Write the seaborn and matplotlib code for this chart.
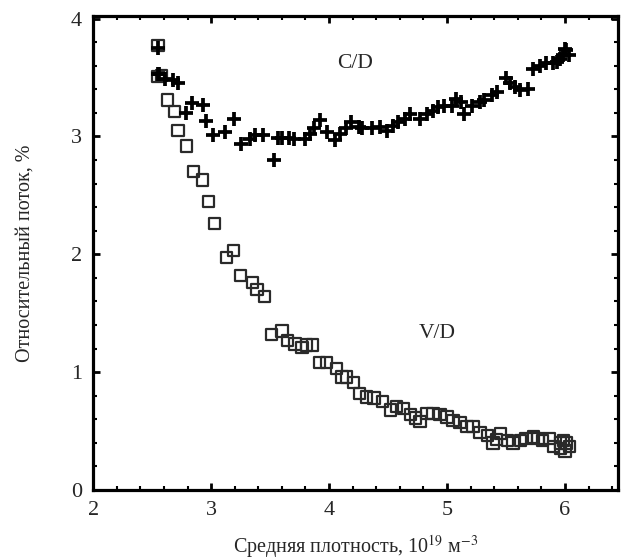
import numpy as np
import pandas as pd
import matplotlib
matplotlib.use("Agg")
import matplotlib.pyplot as plt
import seaborn as sns
from matplotlib.ticker import MultipleLocator

# C/D (crosses)
cd_density = [2.55, 2.55, 2.56, 2.61, 2.68, 2.72, 2.79, 2.84, 2.93, 2.96, 3.02, 3.12,
              3.19, 3.25, 3.33, 3.37, 3.44, 3.53, 3.57, 3.60, 3.66, 3.70, 3.80, 3.84,
              3.87, 3.92, 3.98, 4.05, 4.09, 4.14, 4.19, 4.25, 4.28, 4.36, 4.43, 4.49,
              4.54, 4.58, 4.64, 4.69, 4.77, 4.83, 4.88, 4.92, 4.97, 5.04, 5.08, 5.12,
              5.14, 5.21, 5.28, 5.31, 5.38, 5.42, 5.50, 5.53, 5.58, 5.62, 5.69, 5.73,
              5.79, 5.84, 5.90, 5.93, 5.96, 5.98, 6.00, 6.01, 6.03]
cd_flux = [3.75, 3.53, 3.53, 3.49, 3.48, 3.45, 3.20, 3.28, 3.27, 3.13, 3.01, 3.04,
           3.15, 2.94, 2.98, 3.01, 3.01, 2.80, 2.99, 2.99, 2.99, 2.98, 2.98, 3.02,
           3.07, 3.14, 3.04, 2.97, 3.02, 3.07, 3.12, 3.08, 3.07, 3.07, 3.08, 3.05,
           3.09, 3.12, 3.15, 3.19, 3.15, 3.19, 3.22, 3.25, 3.26, 3.26, 3.32, 3.29,
           3.19, 3.26, 3.29, 3.31, 3.35, 3.38, 3.50, 3.45, 3.42, 3.39, 3.40, 3.57,
           3.60, 3.62, 3.62, 3.63, 3.66, 3.69, 3.74, 3.73, 3.69]

# V/D (squares)
vd_density = [2.55, 2.55, 2.58, 2.63, 2.69, 2.72, 2.79, 2.85, 2.93, 2.98, 3.03, 3.13,
              3.19, 3.25, 3.35, 3.39, 3.45, 3.51, 3.60, 3.65, 3.71, 3.77, 3.81, 3.86,
              3.92, 3.98, 4.06, 4.11, 4.15, 4.21, 4.26, 4.32, 4.38, 4.45, 4.52, 4.57,
              4.63, 4.69, 4.73, 4.77, 4.83, 4.88, 4.94, 5.00, 5.05, 5.11, 5.17, 5.22,
              5.28, 5.34, 5.39, 5.42, 5.45, 5.51, 5.56, 5.62, 5.67, 5.73, 5.77, 5.81,
              5.87, 5.90, 5.96, 5.96, 5.99, 6.01, 6.04, 6.00]
vd_flux = [3.77, 3.51, 3.52, 3.31, 3.21, 3.05, 2.92, 2.70, 2.63, 2.45, 2.26, 1.97,
           2.03, 1.82, 1.76, 1.70, 1.64, 1.32, 1.35, 1.27, 1.24, 1.21, 1.23, 1.23,
           1.08, 1.08, 1.03, 0.96, 0.96, 0.91, 0.82, 0.79, 0.78, 0.75, 0.68, 0.71,
           0.69, 0.64, 0.61, 0.58, 0.65, 0.65, 0.64, 0.62, 0.59, 0.57, 0.54, 0.54,
           0.49, 0.46, 0.40, 0.43, 0.48, 0.42, 0.40, 0.42, 0.44, 0.45, 0.44, 0.42,
           0.44, 0.37, 0.35, 0.40, 0.42, 0.40, 0.37, 0.33]

cd = pd.DataFrame({"density": cd_density, "flux": cd_flux})
vd = pd.DataFrame({"density": vd_density, "flux": vd_flux})

sns.set_theme(style="ticks")
plt.rcParams['font.family'] = ['Liberation Serif', 'DejaVu Serif']
plt.rcParams['mathtext.fontset'] = 'stix'

fig = plt.figure(figsize=(6.25, 5.6), dpi=100)
ax = fig.add_axes([0.149, 0.125, 0.84, 0.846])

sns.scatterplot(data=vd, x="density", y="flux", ax=ax, marker="s", s=66,
                facecolor="none", edgecolor="#2a2a2a", linewidth=1.6, zorder=3)
sns.scatterplot(data=cd, x="density", y="flux", ax=ax, marker="+", s=100,
                color="black", linewidth=2.7, zorder=4)

ax.text(4.22, 3.62, "C/D", fontsize=15.5, ha="center", va="center")
ax.text(4.92, 1.33, "V/D", fontsize=15.5, ha="center", va="center")

ax.set_xlim(2, 6.45)
ax.set_ylim(0, 4.02)
ax.xaxis.set_major_locator(MultipleLocator(1))
ax.xaxis.set_minor_locator(MultipleLocator(0.2))
ax.yaxis.set_major_locator(MultipleLocator(1))
ax.yaxis.set_minor_locator(MultipleLocator(0.2))
ax.tick_params(which="both", direction="in", top=True, right=True, color="black")
ax.tick_params(which="major", length=5, width=2, labelsize=16, pad=8)
ax.tick_params(which="minor", length=3, width=1.5)
for sp in ax.spines.values():
    sp.set_linewidth(2.3)
    sp.set_color("black")

ax.set_xlabel("Средняя плотность, 10$^{19}$ м$^{-3}$", fontsize=14.5, labelpad=9)
ax.set_ylabel("Относительный поток, %", fontsize=14.5, labelpad=26)

plt.savefig("out.png", dpi=100)
